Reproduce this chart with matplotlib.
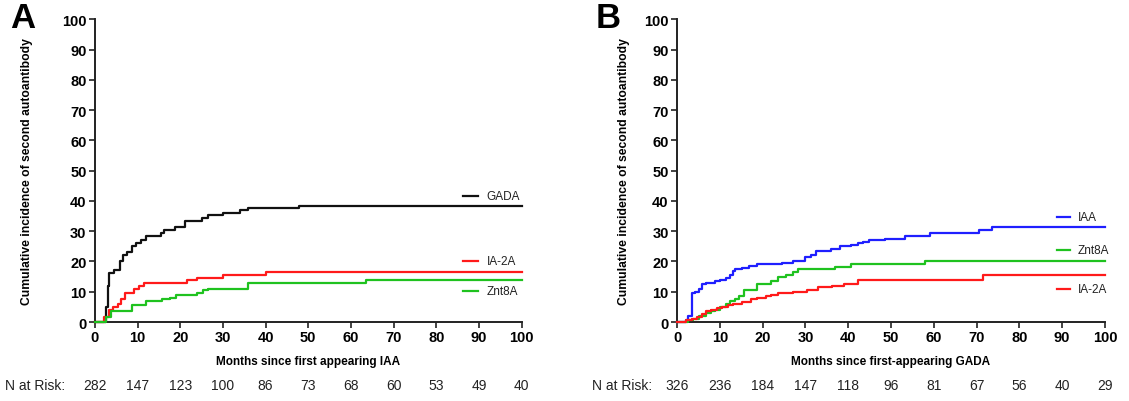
import numpy as np
import matplotlib.pyplot as plt

# Panel A: months since first appearing IAA
a_gada_t = [0, 2.0, 2.6, 3.0, 3.4, 4.6, 5.8, 6.6, 7.6, 8.6, 9.6, 10.8, 12.0, 15.4, 16.2, 18.7, 21.2, 25.0, 26.6, 30.0, 34.0, 35.8, 47.8, 100]
a_gada_v = [0, 0, 5.0, 12.0, 16.3, 17.2, 20.0, 22.0, 23.0, 25.0, 26.0, 27.0, 28.5, 29.5, 30.5, 31.5, 33.5, 34.5, 35.5, 36.0, 37.0, 37.5, 38.3, 38.3]
a_ia2a_t = [0, 2.1, 3.3, 4.2, 5.4, 6.2, 7.0, 9.2, 10.4, 11.6, 21.6, 24.0, 30.0, 40.0, 100]
a_ia2a_v = [0, 1.5, 4.0, 5.0, 6.0, 7.5, 9.5, 11.0, 12.0, 13.0, 14.0, 14.5, 15.5, 16.5, 16.5]
a_znt8_t = [0, 2.5, 3.7, 8.7, 12.0, 15.8, 17.5, 19.0, 24.0, 25.4, 26.6, 36.0, 63.6, 100]
a_znt8_v = [0, 1.5, 3.5, 5.5, 7.0, 7.5, 8.0, 9.0, 9.5, 10.5, 11.0, 13.0, 14.0, 14.0]
a_risk = [282, 147, 123, 100, 86, 73, 68, 60, 53, 49, 40]

# Panel B: months since first-appearing GADA
b_iaa_t = [0, 2.0, 2.6, 3.4, 4.2, 5.1, 5.9, 6.8, 8.9, 10.1, 11.4, 12.3, 13.1, 13.5, 15.2, 16.9, 18.6, 24.5, 27.0, 30.0, 31.3, 32.5, 36.0, 38.0, 40.6, 42.3, 43.5, 44.8, 48.6, 53.3, 59.2, 70.6, 73.5, 100]
b_iaa_v = [0, 0.5, 2.0, 9.5, 10.0, 11.0, 12.5, 13.0, 13.5, 14.0, 14.5, 15.5, 17.0, 17.5, 18.0, 18.5, 19.0, 19.5, 20.0, 21.5, 22.0, 23.5, 24.0, 25.0, 25.5, 26.0, 26.5, 27.0, 27.5, 28.3, 29.3, 30.5, 31.5, 31.5]
b_znt8_t = [0, 2.5, 3.8, 5.1, 6.8, 8.0, 8.9, 10.1, 11.4, 12.3, 13.5, 14.4, 15.6, 18.6, 22.0, 23.7, 25.4, 27.0, 28.3, 36.8, 40.6, 57.9, 100]
b_znt8_v = [0, 0.5, 1.0, 2.0, 3.0, 3.5, 4.0, 5.0, 6.0, 7.0, 7.5, 8.5, 10.5, 12.5, 13.5, 15.0, 15.5, 16.5, 17.5, 18.3, 19.0, 20.0, 20.0]
b_ia2a_t = [0, 2.0, 3.4, 4.6, 5.9, 6.8, 8.0, 9.3, 10.6, 11.8, 13.1, 15.2, 17.3, 18.6, 20.7, 22.0, 23.7, 27.0, 30.4, 33.0, 36.3, 38.9, 42.3, 71.4, 100]
b_ia2a_v = [0, 0.5, 1.0, 1.5, 2.5, 3.5, 4.0, 4.5, 5.0, 5.5, 6.0, 6.5, 7.5, 8.0, 8.5, 9.0, 9.5, 10.0, 10.5, 11.5, 12.0, 12.5, 14.0, 15.5, 15.5]
b_risk = [326, 236, 184, 147, 118, 96, 81, 67, 56, 40, 29]

risk_times = [0, 10, 20, 30, 40, 50, 60, 70, 80, 90, 100]

BLACK, RED, GREEN, BLUE = '#111111', '#ff1a1a', '#1fc21f', '#1f1fff'

plt.rcParams['font.family'] = ['Liberation Sans', 'DejaVu Sans']

fig = plt.figure(figsize=(11.29, 4.02), dpi=100)
axA = fig.add_axes([0.084, 0.1965, 0.378, 0.753])
axB = fig.add_axes([0.5997, 0.1965, 0.379, 0.753])


def style_axis(ax, xlabel, ypad):
    ax.set_xlim(0, 100)
    ax.set_ylim(0, 100)
    ax.set_xticks(range(0, 101, 10))
    ax.set_yticks(range(0, 101, 10))
    for s in ['top', 'right']:
        ax.spines[s].set_visible(False)
    for s in ['left', 'bottom']:
        ax.spines[s].set_linewidth(1.4)
        ax.spines[s].set_color('#222222')
    ax.tick_params(direction='out', length=4, width=1.2, color='#222222',
                   labelsize=10.5, pad=2)
    for lab in ax.get_xticklabels() + ax.get_yticklabels():
        lab.set_fontweight('bold')
    ax.set_xlabel(xlabel, fontsize=8.5, fontweight='bold', labelpad=8)
    ax.set_ylabel('Cumulative incidence of second autoantibody', fontsize=8.7,
                  fontweight='bold', labelpad=ypad)


def key(ax, y, color, label, x0, x1, xt):
    ax.plot([x0, x1], [y, y], color=color, lw=1.6, clip_on=False)
    ax.text(xt, y, label, fontsize=8.5, va='center', ha='left', color='#222222')


def risk_row(ax, counts, label_x):
    for t, n in zip(risk_times, counts):
        ax.annotate(str(n), xy=(t, 0), xycoords=('data', 'axes fraction'),
                    xytext=(0, -45), textcoords='offset points',
                    ha='center', va='center', fontsize=10, color='#222222')
    fig.text(label_x / 1129, 1 - 386 / 402, 'N at Risk:', fontsize=10,
             ha='left', va='center', color='#222222')


# Panel A
style_axis(axA, 'Months since first appearing IAA', 21)
axA.step(a_gada_t, a_gada_v, where='post', color=BLACK, lw=1.6, clip_on=False, zorder=3)
axA.step(a_ia2a_t, a_ia2a_v, where='post', color=RED, lw=1.6, clip_on=False, zorder=3)
axA.step(a_znt8_t, a_znt8_v, where='post', color=GREEN, lw=1.6, clip_on=False, zorder=3)
key(axA, 41.6, BLACK, 'GADA', 86.2, 89.7, 91.8)
key(axA, 20.1, RED, 'IA-2A', 86.2, 89.7, 91.8)
key(axA, 10.2, GREEN, 'Znt8A', 86.2, 89.7, 91.8)
risk_row(axA, a_risk, 5)

# Panel B
style_axis(axB, 'Months since first-appearing GADA', 10)
axB.step(b_iaa_t, b_iaa_v, where='post', color=BLUE, lw=1.6, clip_on=False, zorder=3)
axB.step(b_znt8_t, b_znt8_v, where='post', color=GREEN, lw=1.6, clip_on=False, zorder=3)
axB.step(b_ia2a_t, b_ia2a_v, where='post', color=RED, lw=1.6, clip_on=False, zorder=3)
key(axB, 34.7, BLUE, 'IAA', 88.8, 91.8, 93.7)
key(axB, 23.8, GREEN, 'Znt8A', 88.8, 91.8, 93.7)
key(axB, 10.9, RED, 'IA-2A', 88.8, 91.8, 93.7)
risk_row(axB, b_risk, 592)

fig.text(10 / 1129, 1 - 19 / 402, 'A', fontsize=25, fontweight='bold', va='center', ha='left')
fig.text(596 / 1129, 1 - 19 / 402, 'B', fontsize=25, fontweight='bold', va='center', ha='left')

fig.savefig('out.png', dpi=100)
